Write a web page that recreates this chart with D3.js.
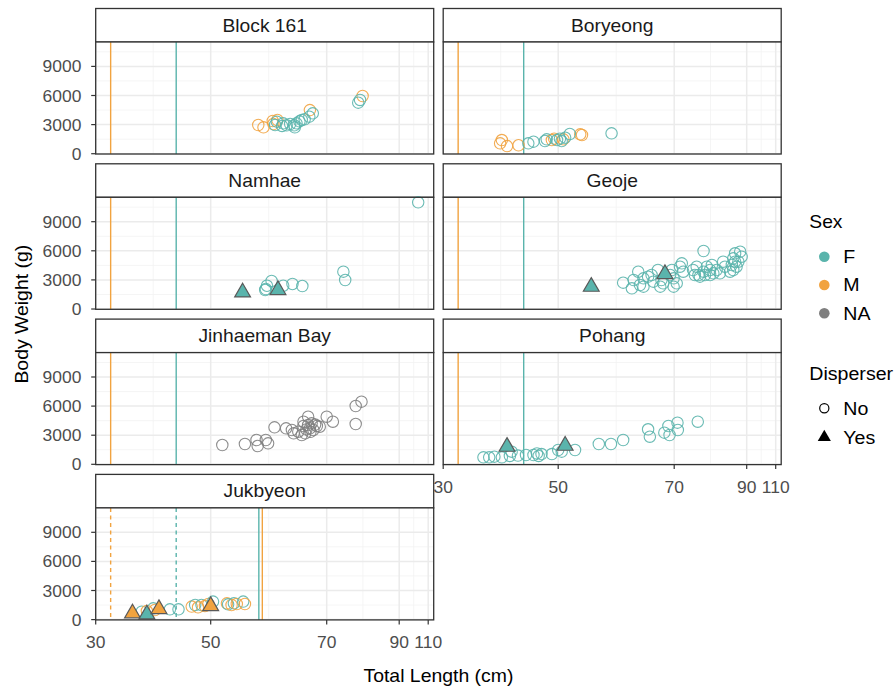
<!DOCTYPE html>
<html><head><meta charset="utf-8">
<script src="https://cdn.jsdelivr.net/npm/d3@7"></script>
<style>body{margin:0;background:#fff} svg text{font-family:"Liberation Sans",Arial,Helvetica,sans-serif}</style>
</head><body><svg id="c" width="896" height="688"></svg>
<script>
const sites = ["Block 161","Boryeong","Namhae","Geoje","Jinhaeman Bay","Pohang","Jukbyeon"];
const xTicks = [30,50,70,90,110];
const yTicks = [0,3000,6000,9000];
const sexLevels = ["F","M","NA"];
const sexColors = ["#5ab4ac","#f1a340","#7f7f7f"];
const dispLevels = ["No","Yes"];
// reference lines (all panels)
const refSex = ["M","F"];
const refLength = [32.6,44.0];
// Jukbyeon-specific lines
const jukSex = ["F","M"];
const jukLength = [58.3,58.9];

// rows: [total length cm, body weight g, sex, disperser]
const block161 = [
[58.2,2960,"M","No"],[59.1,2720,"M","No"],[60.7,3370,"M","No"],[61.5,3475,"M","No"],[60.8,3060,"M","No"],[67.1,4500,"M","No"],[79.9,5950,"M","No"],
[61.1,2960,"F","No"],[61.4,3300,"F","No"],[62.3,2860,"F","No"],[62.5,3130,"F","No"],[63.1,2930,"F","No"],[63.7,3060,"F","No"],[64.4,2930,"F","No"],[64.5,2720,"F","No"],[64.8,3130,"F","No"],[65.3,3340,"F","No"],[65.7,3475,"F","No"],[66.2,3550,"F","No"],[67.0,3815,"F","No"],[67.6,4165,"F","No"],[78.7,5260,"F","No"],[79.2,5540,"F","No"]
];
const boryeong = [
[40.2,1410,"M","No"],[39.9,1070,"M","No"],[41.1,790,"M","No"],[43.1,870,"M","No"],[48.9,1410,"M","No"],[50.9,1485,"M","No"],[53.8,2000,"M","No"],[54.1,1930,"M","No"],[49.3,1550,"M","No"],
[44.8,1070,"F","No"],[45.7,1240,"F","No"],[47.7,1310,"F","No"],[48.0,1485,"F","No"],[49.8,1410,"F","No"],[50.3,1550,"F","No"],[51.2,1650,"F","No"],[52.0,2030,"F","No"],[59.2,2100,"F","No"],[50.6,1300,"F","No"]
];
const namhae = [
[59.4,1960,"F","No"],[59.5,2060,"F","No"],[59.7,2400,"F","No"],[60.5,2890,"F","No"],[62.5,2400,"F","No"],[64.1,2580,"F","No"],[65.8,2370,"F","No"],[74.6,3850,"F","No"],[75.1,2990,"F","No"],[103.1,11000,"F","No"],
[55.5,1720,"F","Yes"],[61.6,1960,"F","Yes"]
];
const geoje = [
[61.2,2715,"F","No"],[62.7,2135,"F","No"],[63.0,2990,"F","No"],[63.8,3845,"F","No"],[64.1,2475,"F","No"],[64.7,3165,"F","No"],[65.5,3330,"F","No"],[66.1,3505,"F","No"],[67.2,4020,"F","No"],[67.8,2990,"F","No"],
[68.1,2650,"F","No"],[69.3,3505,"F","No"],[69.6,4020,"F","No"],[69.9,3165,"F","No"],[70.7,2650,"F","No"],[71.6,4360,"F","No"],[72.1,4710,"F","No"],[72.5,3845,"F","No"],[75.7,3505,"F","No"],[76.2,4360,"F","No"],
[76.7,3505,"F","No"],[78.1,5980,"F","No"],[78.1,3845,"F","No"],[78.5,3505,"F","No"],[79.0,4360,"F","No"],[79.9,4020,"F","No"],[80.4,4535,"F","No"],[80.8,3680,"F","No"],[81.7,4020,"F","No"],[82.6,3680,"F","No"],
[83.5,4875,"F","No"],[84.0,4360,"F","No"],[85.4,3845,"F","No"],[85.9,4535,"F","No"],[86.3,5225,"F","No"],[86.8,5745,"F","No"],[87.2,4360,"F","No"],[87.7,4875,"F","No"],[88.2,5910,"F","No"],[88.6,5390,"F","No"],
[64.7,2300,"F","No"],[66.4,2815,"F","No"],[67.6,2300,"F","No"],[69.9,2300,"F","No"],[75.2,4020,"F","No"],[77.1,3330,"F","No"],[79.9,3505,"F","No"],[86.8,4875,"F","No"],[86.3,4020,"F","No"],
[55.7,2300,"F","Yes"],[68.4,3610,"F","Yes"]
];
const jinhaeman = [
[52.0,1990,"NA","No"],[55.9,2095,"NA","No"],[57.9,2505,"NA","No"],[58.1,1885,"NA","No"],[59.5,2505,"NA","No"],[59.9,2165,"NA","No"],[61.0,3815,"NA","No"],[63.0,3710,"NA","No"],[64.0,3535,"NA","No"],[64.3,3195,"NA","No"],
[65.1,3360,"NA","No"],[65.7,3020,"NA","No"],[66.0,4390,"NA","No"],[66.3,3195,"NA","No"],[66.8,4905,"NA","No"],[66.8,4050,"NA","No"],[67.1,3710,"NA","No"],[67.4,4225,"NA","No"],[67.7,3535,"NA","No"],[68.3,3950,"NA","No"],
[68.8,3875,"NA","No"],[70.0,4905,"NA","No"],[71.7,4390,"NA","No"],[78.0,6010,"NA","No"],[79.6,6455,"NA","No"],[78.0,4155,"NA","No"],[66.0,3950,"NA","No"],[66.5,3600,"NA","No"],[67.2,3350,"NA","No"],[68.0,4100,"NA","No"]
];
const pohang = [
[37.0,720,"F","No"],[38.0,720,"F","No"],[38.9,785,"F","No"],[40.2,720,"F","No"],[41.6,860,"F","No"],[41.9,1300,"F","No"],[44.4,960,"F","No"],[45.7,960,"F","No"],[46.3,1125,"F","No"],[46.6,860,"F","No"],
[47.1,1060,"F","No"],[48.9,1060,"F","No"],[50.0,1475,"F","No"],[50.6,1300,"F","No"],[52.9,1475,"F","No"],[57.0,2095,"F","No"],[59.1,2095,"F","No"],[61.2,2505,"F","No"],[65.5,3610,"F","No"],[65.8,2845,"F","No"],
[68.3,3260,"F","No"],[69.0,3950,"F","No"],[69.2,3020,"F","No"],[70.9,4290,"F","No"],[71.0,3535,"F","No"],[76.5,4390,"F","No"],[43.0,900,"F","No"],
[41.1,1815,"F","Yes"],[51.2,1920,"F","Yes"]
];
const jukbyeon = [
[38.0,815,"F","No"],[38.9,885,"M","No"],[40.0,1165,"F","No"],[40.3,990,"M","No"],[42.9,1060,"F","No"],[44.4,1060,"F","No"],[46.7,1340,"M","No"],[47.3,1505,"F","No"],[47.8,1270,"M","No"],[48.4,1505,"F","No"],
[49.0,1400,"M","No"],[49.6,1610,"M","No"],[50.4,1855,"F","No"],[52.8,1680,"M","No"],[53.0,1575,"F","No"],[53.6,1505,"M","No"],[54.0,1680,"F","No"],[54.5,1610,"M","No"],[55.6,1855,"F","No"],[55.9,1610,"M","No"],
[36.4,650,"M","Yes"],[38.9,545,"F","Yes"],[41.0,1095,"M","Yes"],[50.0,1400,"M","Yes"]
];
const siteData = [block161,boryeong,namhae,geoje,jinhaeman,pohang,jukbyeon];

const svg = d3.select("#c");
const PW = 338, PH = 112, SH = 33.5;
const colX = [95.7, 443.2];
const rowTop = r => 8.5 + r*155.3;
const x = d3.scaleLinear().domain(xTicks).range([0,115,231,303.5,332.5]);
const y = d3.scaleLinear().domain([-30,11515]).range([PH,0]);
const color = d3.scaleOrdinal().domain(sexLevels).range(sexColors);
const xMinor = xTicks.slice(1).map((t,i)=> (x(t)+x(xTicks[i]))/2);
const yMinor = [1500,4500,7500,10500];
const tri = d3.symbol().type(d3.symbolTriangle).size(108);

function txt(parent, tx, ty, str, size, anchor, sx, fill, rot){
  return parent.append("text")
    .attr("transform",`translate(${tx},${ty})${rot?` rotate(${rot})`:""} scale(${sx},1)`)
    .attr("text-anchor",anchor).attr("font-size",size).attr("fill",fill).text(str);
}

sites.forEach((name,i)=>{
  const col = i%2, row = Math.floor(i/2);
  const sx = colX[col], st = rowTop(row), pt = st+SH;
  svg.append("rect").attr("x",sx).attr("y",st).attr("width",PW).attr("height",SH)
    .attr("fill","#fff").attr("stroke","#333").attr("stroke-width",1.3);
  txt(svg, sx+PW/2, st+SH/2+6.3, name, 17.5, "middle", 1.1, "#1a1a1a");
  const g = svg.append("g").attr("transform",`translate(${sx},${pt})`);
  g.append("rect").attr("width",PW).attr("height",PH).attr("fill","#fff");
  xMinor.forEach(v=>g.append("line").attr("x1",v).attr("x2",v).attr("y1",0).attr("y2",PH).attr("stroke","#f2f2f2").attr("stroke-width",0.8));
  yMinor.forEach(v=>g.append("line").attr("y1",y(v)).attr("y2",y(v)).attr("x1",0).attr("x2",PW).attr("stroke","#f2f2f2").attr("stroke-width",0.8));
  xTicks.forEach(v=>g.append("line").attr("x1",x(v)).attr("x2",x(v)).attr("y1",0).attr("y2",PH).attr("stroke","#ebebeb").attr("stroke-width",1.5));
  yTicks.forEach(v=>g.append("line").attr("y1",y(v)).attr("y2",y(v)).attr("x1",0).attr("x2",PW).attr("stroke","#ebebeb").attr("stroke-width",1.5));
  const dashed = name==="Jukbyeon";
  refSex.forEach((s,k)=>g.append("line").attr("x1",x(refLength[k])).attr("x2",x(refLength[k])).attr("y1",0).attr("y2",PH)
    .attr("stroke",color(s)).attr("stroke-width",1.4).attr("stroke-dasharray",dashed?"4,3.5":null));
  if(dashed){
    jukSex.forEach((s,k)=>g.append("line").attr("x1",x(jukLength[k])).attr("x2",x(jukLength[k])).attr("y1",0).attr("y2",PH)
      .attr("stroke",color(s)).attr("stroke-width",1.4));
  }
  const data = siteData[i];
  const pg = g.append("g");
  pg.selectAll("circle").data(data.filter(d=>d[3]==="No")).join("circle")
    .attr("cx",d=>x(d[0])).attr("cy",d=>y(d[1])).attr("r",5.7)
    .attr("fill","none").attr("stroke",d=>color(d[2])).attr("stroke-width",1.1).attr("stroke-opacity",0.9);
  pg.selectAll("path").data(data.filter(d=>d[3]==="Yes")).join("path")
    .attr("transform",d=>`translate(${x(d[0])},${y(d[1])})`).attr("d",tri)
    .attr("fill",d=>color(d[2])).attr("stroke","#595959").attr("stroke-width",1.2);
  g.append("rect").attr("width",PW).attr("height",PH).attr("fill","none").attr("stroke","#333").attr("stroke-width",1.3);
  if(col===0){
    const ya = svg.append("g").attr("transform",`translate(${sx},${pt})`);
    yTicks.forEach(v=>{
      ya.append("line").attr("x1",-4.5).attr("x2",0).attr("y1",y(v)).attr("y2",y(v)).attr("stroke","#333").attr("stroke-width",1.2);
      txt(ya, -14.3, y(v)+6, v, 16.8, "end", 1.04, "#4d4d4d");
    });
  }
  if(name==="Pohang"||name==="Jukbyeon"){
    const xa = svg.append("g").attr("transform",`translate(${sx},${pt+PH})`);
    xTicks.forEach(v=>{
      xa.append("line").attr("x1",x(v)).attr("x2",x(v)).attr("y1",0).attr("y2",4.5).attr("stroke","#333").attr("stroke-width",1.2);
      txt(xa, x(v), 28.5, v, 16.8, "middle", 1.04, "#4d4d4d");
    });
  }
});

txt(svg, (colX[0]+colX[1]+PW)/2, 682, "Total Length (cm)", 17.5, "middle", 1.11, "#000");
txt(svg, 28, (rowTop(0)+rowTop(3)+SH+PH)/2, "Body Weight (g)", 17.5, "middle", 1.11, "#000", -90);

const lg = svg.append("g");
txt(lg, 809.3, 228.3, "Sex", 17.5, "start", 1.1, "#000");
sexLevels.forEach((s,k)=>{
  const cy = 256.7 + k*28.3;
  lg.append("circle").attr("cx",824.3).attr("cy",cy).attr("r",5.3).attr("fill",color(s));
  txt(lg, 843.3, cy+6.3, s, 17.5, "start", 1.12, "#000");
});
txt(lg, 809.3, 380.3, "Disperser", 17.5, "start", 1.12, "#000");
dispLevels.forEach((s,k)=>{
  const cy = 408.3 + k*29;
  if(s==="No") lg.append("circle").attr("cx",824.3).attr("cy",cy).attr("r",4.6).attr("fill","none").attr("stroke","#000").attr("stroke-width",1.2);
  else lg.append("path").attr("transform",`translate(824.3,${cy})`).attr("d",d3.symbol().type(d3.symbolTriangle).size(75)).attr("fill","#000");
  txt(lg, 843.3, cy+6.3, s, 17.5, "start", 1.12, "#000");
});
</script></body></html>
